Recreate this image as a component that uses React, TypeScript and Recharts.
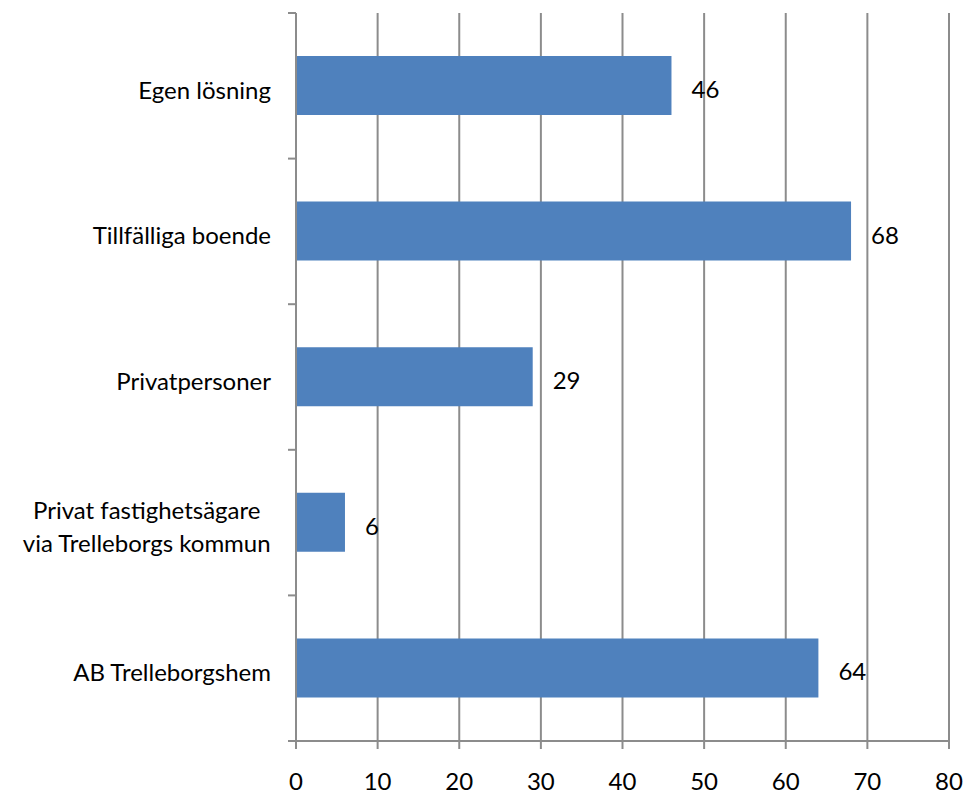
import React from "react";
import { BarChart, Bar, XAxis, YAxis, CartesianGrid, LabelList } from "recharts";

const categories = [
  "Egen lösning",
  "Tillfälliga boende",
  "Privatpersoner",
  "Privat fastighetsägare\nvia Trelleborgs kommun",
  "AB Trelleborgshem",
];
const values = [46, 68, 29, 6, 64];
const xTicks = [0, 10, 20, 30, 40, 50, 60, 70, 80];

const data = categories.map((c, i) => ({ name: c, value: values[i] }));

const FONT = "Lato, 'Open Sans', sans-serif";
const FS = 24;
const GRID = "#8c8c8c";
const TICK = 8;

let ctx: CanvasRenderingContext2D | null = null;
function measure(t: string) {
  if (!ctx) ctx = document.createElement("canvas").getContext("2d");
  if (!ctx) return t.length * FS * 0.5;
  ctx.font = `${FS}px ${FONT}`;
  return ctx.measureText(t).width;
}

const CatTick = (props: any) => {
  const { x, y, payload, index, visibleTicksCount } = props;
  const half = payload && payload.offset ? payload.offset : 72.8;
  const axisX = x + TICK;
  const lines = String(payload.value).split("\n");
  const endX = axisX - 25;
  const isLast = visibleTicksCount ? index === visibleTicksCount - 1 : index === categories.length - 1;
  const ticks = (
    <g>
      <line x1={axisX - TICK} x2={axisX} y1={y - half} y2={y - half} stroke={GRID} strokeWidth={2} />
      {isLast && (
        <line x1={axisX - TICK} x2={axisX} y1={y + half} y2={y + half} stroke={GRID} strokeWidth={2} />
      )}
    </g>
  );
  if (lines.length === 1) {
    return (
      <g>
        {ticks}
        <text x={endX} y={y} dy="0.53em" textAnchor="end" fontFamily={FONT} fontSize={FS} fill="#000">
          {lines[0]}
        </text>
      </g>
    );
  }
  const maxW = Math.max(...lines.map(measure));
  const cx = endX - maxW / 2;
  const lh = FS * 1.35;
  const start = -((lines.length - 1) * lh) / 2;
  return (
    <g>
      {ticks}
      <text textAnchor="middle" fontFamily={FONT} fontSize={FS} fill="#000">
        {lines.map((l, i) => (
          <tspan key={i} x={cx} y={y + start + i * lh} dy="0.53em">
            {l}
          </tspan>
        ))}
      </text>
    </g>
  );
};

export default function App() {
  return (
    <div style={{ position: "absolute", left: 0, top: 0, background: "#fff" }}>
      <BarChart
        width={966}
        height={796}
        data={data}
        layout="vertical"
        margin={{ top: 13, right: 17, left: 0, bottom: 0 }}
      >
        <CartesianGrid horizontal={false} vertical={true} stroke={GRID} strokeWidth={2} />
        <XAxis
          type="number"
          domain={[0, 80]}
          ticks={xTicks}
          interval={0}
          height={55}
          tickSize={TICK}
          tickMargin={24}
          stroke={GRID}
          strokeWidth={2}
          tick={{ fill: "#000", fontSize: FS, fontFamily: FONT }}
        />
        <YAxis
          type="category"
          dataKey="name"
          width={296}
          tickLine={false}
          tickSize={TICK}
          tickMargin={0}
          axisLine={{ stroke: GRID, strokeWidth: 2 }}
          tick={<CatTick />}
          interval={0}
        />
        <Bar dataKey="value" fill="#4F81BD" barSize={59} isAnimationActive={false}>
          <LabelList
            dataKey="value"
            position="right"
            offset={20}
            dy={4}
            fill="#000"
            fontSize={FS}
            fontFamily={FONT}
          />
        </Bar>
      </BarChart>
    </div>
  );
}
